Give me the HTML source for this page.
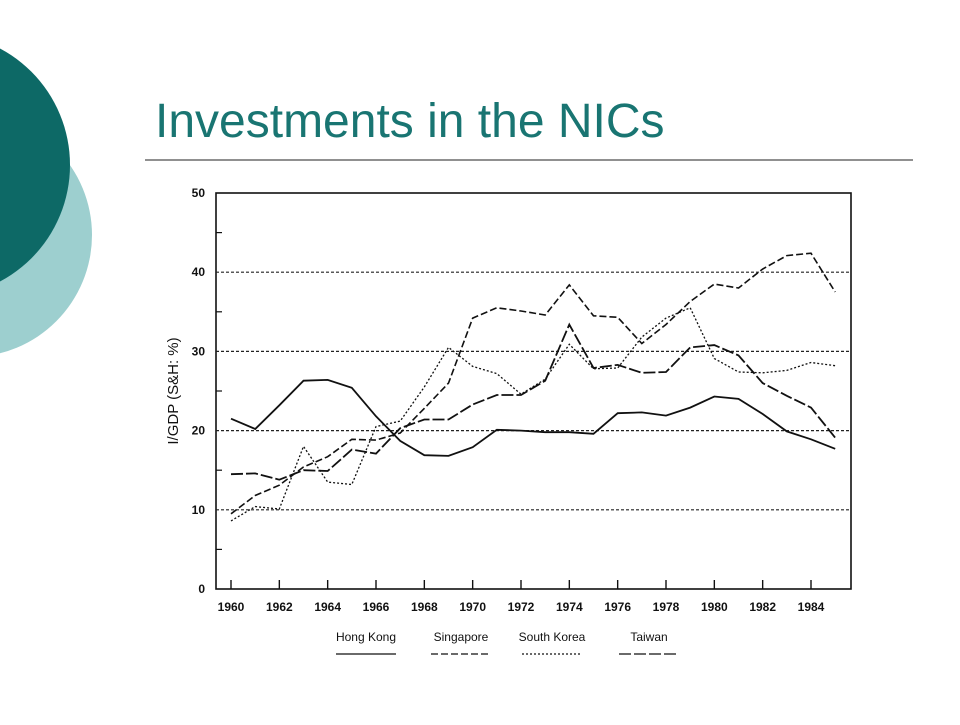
<!DOCTYPE html>
<html><head><meta charset="utf-8"><style>
body{margin:0;width:960px;height:720px;background:#fff;overflow:hidden;font-family:"Liberation Sans",sans-serif}
</style></head><body>
<svg width="960" height="720" xmlns="http://www.w3.org/2000/svg">
<circle cx="-30" cy="235" r="122" fill="#9dcfcf"/>
<circle cx="-62" cy="165" r="132" fill="#0d6966"/>
<text x="155" y="137" font-size="48" fill="#197572">Investments in the NICs</text>
<line x1="145" y1="160" x2="913" y2="160" stroke="#222" stroke-width="1"/>
<g id="chart"></g>
</svg>
<script>
const years=[1960,1961,1962,1963,1964,1965,1966,1967,1968,1969,1970,1971,1972,1973,1974,1975,1976,1977,1978,1979,1980,1981,1982,1983,1984,1985];
const hongKong=[21.5,20.2,23.2,26.3,26.4,25.4,21.8,18.7,16.9,16.8,17.9,20.1,20.0,19.8,19.8,19.6,22.2,22.3,21.9,22.9,24.3,24.0,22.1,19.9,18.9,17.7];
const singapore=[9.5,11.8,13.1,15.4,16.7,18.9,18.8,19.7,22.8,26.0,34.2,35.5,35.1,34.6,38.4,34.5,34.3,31.0,33.4,36.3,38.5,38.0,40.4,42.1,42.4,37.5];
const southKorea=[8.6,10.4,10.1,18.0,13.5,13.2,20.5,21.2,25.5,30.5,28.1,27.2,24.6,26.5,30.9,27.8,27.9,31.8,34.2,35.5,29.1,27.4,27.3,27.6,28.6,28.2];
const taiwan=[14.5,14.6,13.8,15.0,14.9,17.6,17.1,20.3,21.4,21.4,23.3,24.5,24.5,26.3,33.4,27.9,28.3,27.3,27.4,30.5,30.8,29.5,26.0,24.4,22.9,19.1];
const yTicks=[0,10,20,30,40,50];
const xTickLabels=[1960,1962,1964,1966,1968,1970,1972,1974,1976,1978,1980,1982,1984];
const legendNames=["Hong Kong","Singapore","South Korea","Taiwan"];

const NS="http://www.w3.org/2000/svg";
const g=document.getElementById('chart');
const L=216,T=193,R=851,B=589;
const xs=y=>231+(y-1960)*(811-231)/24;
const ys=v=>B-v*(B-T)/50;
function mk(t,a,p){const e=document.createElementNS(NS,t);for(const k in a)e.setAttribute(k,a[k]);(p||g).appendChild(e);return e;}
const frame=mk('rect',{x:L,y:T,width:R-L,height:B-T,fill:'none',stroke:'#111','stroke-width':1.6});


yTicks.forEach(v=>{
  if(v>0&&v<50){const gl=mk('line',{x1:L,x2:R,y1:ys(v),y2:ys(v),stroke:'#222','stroke-width':1.2,'stroke-dasharray':'3,2'});
  
  }
  const t=mk('text',{x:205,y:ys(v)+4,'text-anchor':'end','font-size':12,'font-weight':'bold',fill:'#111'});t.textContent=v;
  
  
});
for(let v=5;v<50;v+=10){const tk=mk('line',{x1:L,x2:L+6,y1:ys(v),y2:ys(v),stroke:'#111','stroke-width':1.2});
  
  }
xTickLabels.forEach(y=>{
  const tk=mk('line',{x1:xs(y),x2:xs(y),y1:B,y2:B-9,stroke:'#111','stroke-width':1.4});
  
  
  const t=mk('text',{x:xs(y),y:611,'text-anchor':'middle','font-size':12,'font-weight':'bold',fill:'#111'});t.textContent=y;
  
  
});
const yt=mk('text',{x:0,y:0,'text-anchor':'middle','font-size':15,fill:'#111',transform:'translate(178,391) rotate(-90)'});yt.textContent='I/GDP (S&H: %)';


const series=[hongKong,singapore,southKorea,taiwan];
const dashes=['none','7,3','2,2','12,3'];
const widths=[1.8,1.6,1.3,1.8];
series.forEach((s,i)=>{
  const d=s.map((v,j)=>(j?'L':'M')+xs(years[j]).toFixed(1)+','+ys(v).toFixed(1)).join(' ');
  const p=mk('path',{d:d,fill:'none',stroke:'#111','stroke-width':widths[i],'stroke-dasharray':dashes[i]});
  
  
});
const lx=[366,461,552,649];
legendNames.forEach((n,i)=>{
  const t=mk('text',{x:lx[i],y:641,'text-anchor':'middle','font-size':12,fill:'#111','font-weight':'500'});t.textContent=n;
  
  
  const ln=mk('line',{x1:lx[i]-30,x2:lx[i]+30,y1:654,y2:654,stroke:'#111','stroke-width':1.3,'stroke-dasharray':dashes[i]});
  
  
});
</script>
</body></html>
